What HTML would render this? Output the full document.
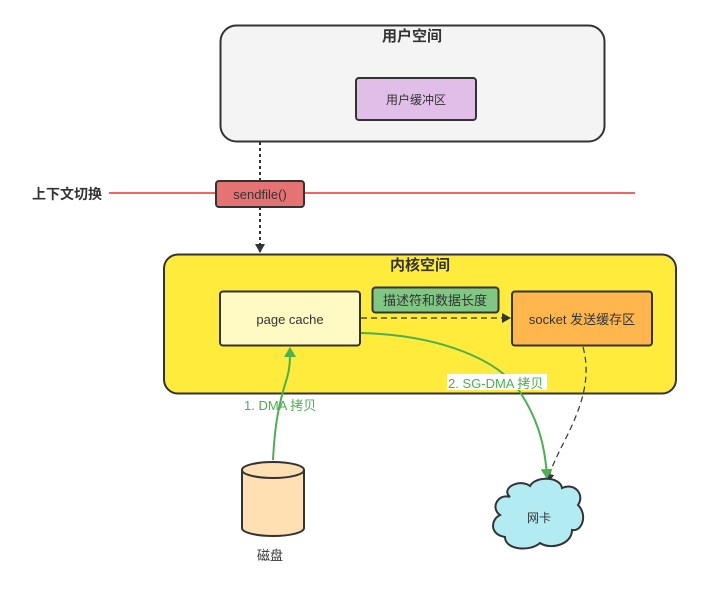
<!DOCTYPE html>
<html><head><meta charset="utf-8"><style>
html,body{margin:0;padding:0;background:#fff;}
text{font-family:"Liberation Sans","Noto Sans CJK SC",sans-serif;}
</style></head><body>
<svg width="701" height="599" viewBox="0 0 701 599" xmlns="http://www.w3.org/2000/svg">
<defs>
<marker id="ab" markerWidth="10" markerHeight="10" refX="8" refY="5" orient="auto" markerUnits="userSpaceOnUse"><path d="M0,0 L9,5 L0,10 Z" fill="#333"/></marker>
<marker id="ag" markerWidth="12" markerHeight="12" refX="9" refY="6" orient="auto" markerUnits="userSpaceOnUse"><path d="M0,0 L10,6 L0,12 Z" fill="#4caf50"/></marker>
</defs>
<rect width="701" height="599" fill="#fff"/>
<rect x="220.5" y="25.5" width="384" height="116" rx="16" fill="#f4f4f4" stroke="#333" stroke-width="2"/>
<text x="412" y="41" font-size="15" font-weight="bold" text-anchor="middle" fill="#333">用户空间</text>
<rect x="356" y="78" width="120" height="42" rx="3" fill="#e1bee7" stroke="#333" stroke-width="2"/>
<text x="416" y="104" font-size="12" text-anchor="middle" fill="#333">用户缓冲区</text>
<line x1="109" y1="193" x2="635" y2="193" stroke="#f0302a" stroke-width="1.5"/>
<text x="32" y="199" font-size="14" font-weight="bold" fill="#333">上下文切换</text>
<line x1="260" y1="142" x2="260" y2="181" stroke="#333" stroke-width="2" stroke-dasharray="3,3"/>
<line x1="260" y1="207" x2="260" y2="252" stroke="#333" stroke-width="2" stroke-dasharray="3,3" marker-end="url(#ab)"/>
<rect x="216" y="181" width="88" height="26" rx="3" fill="#e57373" stroke="#333" stroke-width="2"/>
<text x="260" y="199" font-size="13" text-anchor="middle" fill="#333">sendfile()</text>
<rect x="164" y="254.5" width="512" height="139" rx="14" fill="#ffeb3b" stroke="#333" stroke-width="2"/>
<text x="420" y="270" font-size="15" font-weight="bold" text-anchor="middle" fill="#333">内核空间</text>
<rect x="220" y="291.5" width="140" height="54" rx="3" fill="#fff9c4" stroke="#333" stroke-width="2"/>
<text x="290" y="324" font-size="13" text-anchor="middle" fill="#333">page cache</text>
<rect x="372.5" y="287.5" width="126" height="25" rx="3" fill="#81c784" stroke="#333" stroke-width="2"/>
<text x="435" y="305" font-size="13" text-anchor="middle" fill="#333">描述符和数据长度</text>
<rect x="512" y="291.5" width="140" height="54" rx="3" fill="#ffb74d" stroke="#333" stroke-width="2"/>
<text x="582" y="324" font-size="13" text-anchor="middle" fill="#333">socket 发送缓存区</text>
<line x1="361" y1="318" x2="510" y2="318" stroke="#333" stroke-width="1.2" stroke-dasharray="6,4" marker-end="url(#ab)"/>
<path d="M583,347 C592,380 580,410 565,440 C555,460 550,470 548,482" fill="none" stroke="#333" stroke-width="1.2" stroke-dasharray="6,4" marker-end="url(#ab)"/>
<path d="M361,333 C440,335 500,360 520,392 C535,415 545,440 547,478" fill="none" stroke="#4caf50" stroke-width="2" marker-end="url(#ag)"/>
<path d="M273,460 C275,420 280,400 287,378 C290,368 290,360 290,348" fill="none" stroke="#4caf50" stroke-width="2" marker-end="url(#ag)"/>
<rect x="447" y="374" width="100" height="16" fill="#fff"/>
<text x="448" y="388" font-size="13" fill="#4caf50">2. SG-DMA 拷贝</text>
<text x="244" y="410" font-size="13" fill="#4caf50">1. DMA 拷贝</text>
<path d="M242,470 L242,528 A31,8 0 0 0 304,528 L304,470" fill="#ffe0b2" stroke="#333" stroke-width="2"/>
<ellipse cx="273" cy="470" rx="31" ry="8" fill="#ffe0b2" stroke="#333" stroke-width="2"/>
<text x="270" y="560" font-size="13" text-anchor="middle" fill="#333">磁盘</text>
<path d="M510,497 C500,488 520,478 530,486 C535,476 560,476 562,488 C575,482 585,495 578,505 C588,515 582,532 572,530 C572,545 550,550 540,543 C530,552 505,550 505,537 C490,535 490,520 500,515 C490,508 498,493 510,497 Z" fill="#b2ebf2" stroke="#333" stroke-width="2"/>
<text x="539" y="522" font-size="12" text-anchor="middle" fill="#333">网卡</text>
</svg>
</body></html>
